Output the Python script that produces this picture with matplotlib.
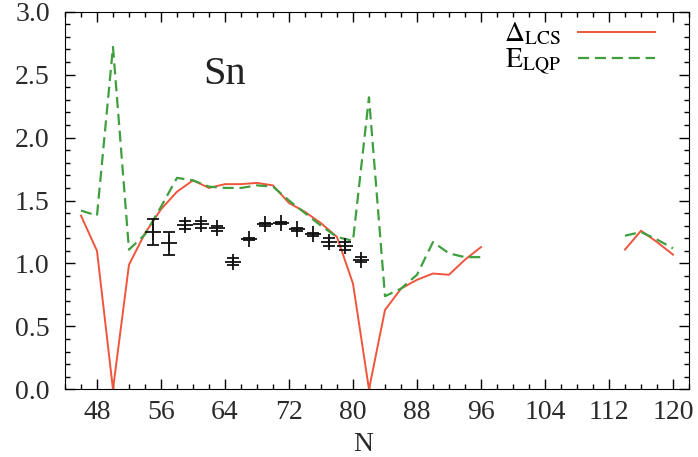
import numpy as np
import matplotlib
matplotlib.use('Agg')
import matplotlib.pyplot as plt
from matplotlib.ticker import MultipleLocator

plt.rcParams['font.family'] = ['Liberation Serif', 'DejaVu Serif']
plt.rcParams['mathtext.fontset'] = 'stix'

# neutron numbers for the two calculated curves (gap between 96 and 114)
N_calc = [46, 48, 50, 52, 54, 56, 58, 60, 62, 64, 66, 68, 70, 72, 74, 76, 78, 80,
          82, 84, 86, 88, 90, 92, 94, 96, np.nan, 114, 116, 118, 120]

delta_lcs = [1.38, 1.10, 0.00, 0.99, 1.24, 1.43, 1.57, 1.66, 1.60, 1.63, 1.63, 1.64,
             1.62, 1.48, 1.41, 1.32, 1.21, 0.84, 0.00, 0.63, 0.80, 0.87, 0.92, 0.91,
             1.03, 1.13, np.nan, 1.11, 1.26, 1.17, 1.07]

e_lqp = [1.42, 1.38, 2.72, 1.11, 1.23, 1.45, 1.68, 1.66, 1.61, 1.60, 1.60, 1.62,
         1.61, 1.50, 1.40, 1.30, 1.21, 1.18, 2.32, 0.74, 0.80, 0.91, 1.17, 1.08,
         1.05, 1.05, np.nan, 1.22, 1.25, 1.19, 1.12]

# experimental points
N_exp = [55, 57, 59, 61, 63, 65, 67, 69, 71, 73, 75, 77, 79, 81]
gap_exp = [1.25, 1.16, 1.305, 1.31, 1.28, 1.015, 1.195, 1.31, 1.32, 1.27, 1.23, 1.17, 1.14, 1.03]
err_exp = [0.10, 0.09, 0.03, 0.03, 0.02, 0.03, 0.01, 0.01, 0.01, 0.01, 0.01, 0.03, 0.03, 0.02]

fig = plt.figure(figsize=(6.98, 4.57), dpi=100)
ax = fig.add_axes([0.0931, 0.1481, 0.8940, 0.8263])

ax.plot(N_calc, delta_lcs, color='#f0553c', lw=1.4, label=r'$\Delta_{\rm LCS}$')
ax.plot(N_calc, e_lqp, color='#3f9f3f', lw=1.6, dashes=(5, 2.6), label=r'$\mathrm{E}_{\rm LQP}$')
ax.errorbar(N_exp, gap_exp, yerr=err_exp, fmt='+', color='#111111', ms=11, mew=1.3,
            elinewidth=1.3, capsize=4, capthick=1.3)

ax.text(64, 2.5, 'Sn', fontsize=29, ha='center', va='center', color='#222222')

ax.set_xlim(44, 122)
ax.set_ylim(0, 3.0)
ax.xaxis.set_minor_locator(MultipleLocator(2))
ax.yaxis.set_major_locator(MultipleLocator(0.5))
ax.yaxis.set_minor_locator(MultipleLocator(0.1))
ax.set_xticks(range(48, 121, 8))
ax.tick_params(which='both', direction='in', top=True, right=True, labelsize=20,
               labelcolor='#2a2a2a')
ax.tick_params(which='major', length=7, width=1)
ax.tick_params(which='minor', length=3.5, width=1)
ax.tick_params(axis='y', pad=11)
ax.tick_params(axis='x', pad=8)
ax.yaxis.set_major_formatter(matplotlib.ticker.FormatStrFormatter('%.1f'))

ax.set_xlabel('N', fontsize=20, color='#2a2a2a')
ax.xaxis.set_label_coords(0.478, -0.112)

leg = ax.legend(loc='upper right', bbox_to_anchor=(0.946, 0.975), frameon=False,
                markerfirst=False, fontsize=20, handlelength=2.8, handletextpad=0.6,
                labelspacing=-0.05, borderpad=0, borderaxespad=0)

plt.savefig('out.png', dpi=100)
